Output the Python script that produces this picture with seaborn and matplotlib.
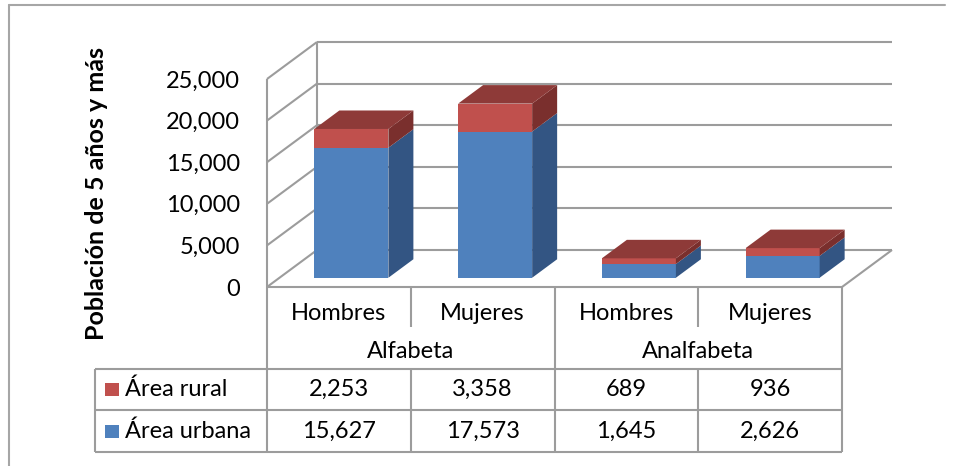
import numpy as np
import pandas as pd
import matplotlib
matplotlib.use("Agg")
import matplotlib.pyplot as plt
import matplotlib.transforms as mtransforms
from matplotlib.lines import Line2D
import seaborn as sns

# datos del grafico
grupos = ["Alfabeta", "Analfabeta"]
sexos = ["Hombres", "Mujeres"]
series = ["Área rural", "Área urbana"]
rural = [2253, 3358, 689, 936]
urbana = [15627, 17573, 1645, 2626]
yticks = [0, 5000, 10000, 15000, 20000, 25000]
ylabel = "Población de 5 años y más"

BLUE = "#4F81BD"
BLUE_SIDE = "#335583"
RED = "#C0504D"
RED_SIDE = "#7A2F2D"
RED_TOP = "#8E3A38"
GRID = "#9c9c9c"
FS = 17

sns.set_style("white")
plt.rcParams["font.family"] = ["Lato", "DejaVu Sans"]
plt.rcParams["text.color"] = "black"
plt.rcParams["ytick.color"] = "black"

W, H = 955, 466
fig = plt.figure(figsize=(W / 100, H / 100), dpi=100)
# area del plano frontal (px): x 267-842, y 79-287
ax = fig.add_axes([267 / W, 1 - 287 / H, 575 / W, 208 / H])

df = pd.DataFrame({
  "clave": [g + "-" + s for g in grupos for s in sexos],
  "rural": rural,
  "urbana": urbana,
})
df["total"] = df["rural"] + df["urbana"]

bw = 0.515
sns.barplot(data=df, x="clave", y="total", color=RED, width=bw, saturation=1,
            linewidth=0, ax=ax)
sns.barplot(data=df, x="clave", y="urbana", color=BLUE, width=bw, saturation=1,
            linewidth=0, ax=ax)

ymax = yticks[-1]
ax.set_xlim(-0.5, len(df) - 0.5)
ax.set_ylim(0, ymax)

# profundidad 3D: 50 px a la derecha y 37 px hacia arriba
DX = 50 * (len(df) / 575)
DY = 37 * (ymax / 208)

def P(x, y, d):
  return (x + d * DX, y + d * DY)

# barras frontales desplazadas al plano 0.25 de profundidad
shift = mtransforms.Affine2D().translate(0.25 * DX, 0.25 * DY) + ax.transData
for p in ax.patches:
  p.set_transform(shift)
  p.set_clip_on(False)
  p.set_zorder(3)

x0, x1 = -0.5, len(df) - 0.5
lk = dict(color=GRID, lw=1.5, clip_on=False, zorder=1, solid_capstyle="butt")
# pared del fondo y pared izquierda
for v in yticks:
  a, b = P(x0, v, 1), P(x1, v, 1)
  ax.plot([a[0], b[0]], [a[1], b[1]], **lk)
  a, b = P(x0, v, 0), P(x0, v, 1)
  ax.plot([a[0], b[0]], [a[1], b[1]], **lk)
a, b = P(x0, 0, 1), P(x0, ymax, 1)
ax.plot([a[0], b[0]], [a[1], b[1]], **lk)
ax.plot([x0, x0], [0, ymax], **lk)
# piso
ax.plot([x0, x1], [0, 0], **lk)
a, b = P(x1, 0, 0), P(x1, 0, 1)
ax.plot([a[0], b[0]], [a[1], b[1]], **lk)

# caras laterales y superiores
for i, row in df.iterrows():
  xl, xr = i - bw / 2, i + bw / 2
  u, t = row["urbana"], row["total"]
  side_b = [P(xr, 0, .25), P(xr, u, .25), P(xr, u, .75), P(xr, 0, .75)]
  side_r = [P(xr, u, .25), P(xr, t, .25), P(xr, t, .75), P(xr, u, .75)]
  top = [P(xl, t, .25), P(xr, t, .25), P(xr, t, .75), P(xl, t, .75)]
  for pts, c in [(side_b, BLUE_SIDE), (side_r, RED_SIDE), (top, RED_TOP)]:
    ax.fill([q[0] for q in pts], [q[1] for q in pts], color=c, lw=0,
            clip_on=False, zorder=3)

ax.set_yticks(yticks)
ax.set_yticklabels([f"{v:,}" for v in yticks], fontsize=FS)
ax.set_xticks([])
ax.set_xlabel("")
ax.set_ylabel("")
ax.tick_params(axis="y", length=0, pad=19.5)
for s in ax.spines.values():
  s.set_visible(False)

fig.text(97 / W, 1 - 194 / H, ylabel, rotation=90, ha="center", va="center",
         fontsize=18, fontweight="bold")

# tabla de datos
tr = mtransforms.blended_transform_factory(ax.transData, fig.transFigure)
def fy(px):
  return 1 - px / H
x_leg = ax.transData.inverted().transform(fig.transFigure.transform((95 / W, 0)))[0]
tk = dict(color=GRID, lw=1.5, transform=tr, clip_on=False, solid_capstyle="butt")
r_top, r_mid, r1, r2, r3 = 287, 327, 369, 410, 452
ax.plot([x0, x0], [fy(r_top), fy(r3)], **tk)
ax.plot([x1, x1], [fy(r_top), fy(r3)], **tk)
ax.plot([1.5, 1.5], [fy(r_top), fy(r3)], **tk)
for xv in [0.5, 2.5]:
  ax.plot([xv, xv], [fy(r_top), fy(r_mid)], **tk)
  ax.plot([xv, xv], [fy(r1), fy(r3)], **tk)
ax.plot([x_leg, x_leg], [fy(r1), fy(r3)], **tk)
for r in [r1, r2, r3]:
  ax.plot([x_leg, x1], [fy(r), fy(r)], **tk)

for i in range(len(df)):
  ax.text(i, fy(313), sexos[i % 2], transform=tr, ha="center", va="center",
          fontsize=FS)
  ax.text(i, fy(389.5), f"{rural[i]:,}", transform=tr, ha="center",
          va="center", fontsize=FS)
  ax.text(i, fy(431), f"{urbana[i]:,}", transform=tr, ha="center",
          va="center", fontsize=FS)
for j, g in enumerate(grupos):
  ax.text(2 * j + 0.5, fy(352), g, transform=tr, ha="center", va="center",
          fontsize=FS)

# leyenda dentro de la tabla
for name, c, yc in [(series[0], RED, 389.5), (series[1], BLUE, 431)]:
  fig.patches.append(plt.Rectangle((105 / W, fy(yc + 6.5)), 13.5 / W, 13 / H,
                                   transform=fig.transFigure, color=c, lw=0))
  fig.text(125 / W, fy(yc), name, ha="left", va="center", fontsize=FS)

# borde del area del grafico
fig.add_artist(Line2D([9 / W, 945 / W], [fy(5), fy(5)], color="#a6a6a6", lw=1.5))
fig.add_artist(Line2D([9 / W, 9 / W], [fy(5), 0], color="#a6a6a6", lw=1.5))

fig.savefig("out.png", dpi=100)
